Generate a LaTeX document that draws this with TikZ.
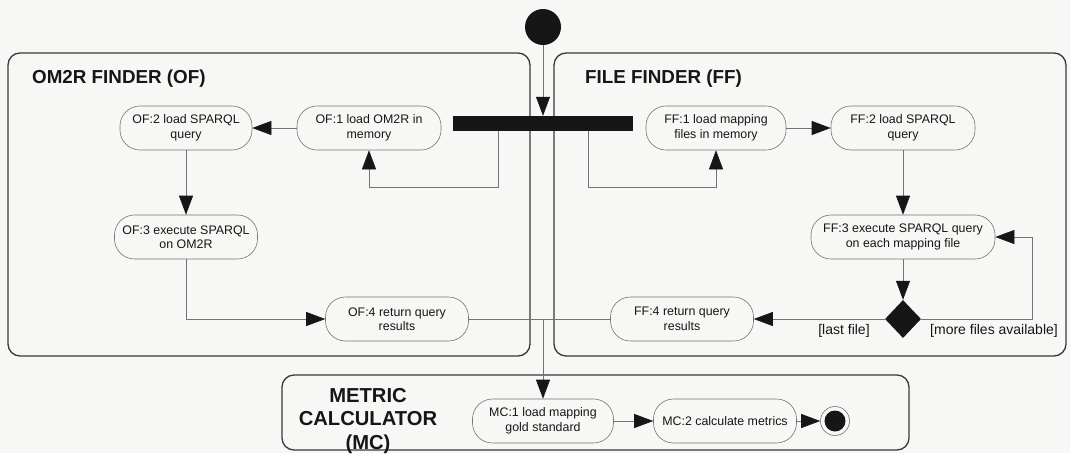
\documentclass[tikz,border=0pt]{standalone}
\usepackage{fontspec}
\setmainfont{Liberation Sans}
\usetikzlibrary{arrows.meta,shapes.geometric,calc}

\definecolor{paper}{RGB}{247,247,245}
\definecolor{ink}{RGB}{22,22,22}
\definecolor{wire}{RGB}{115,115,115}

\begin{document}
\begin{tikzpicture}[x=1pt,y=-1pt,
  lane/.style={draw=ink!85, line width=1.3pt, rounded corners=12pt},
  act/.style={draw=wire, line width=0.6pt, rounded corners=20pt,
    minimum height=44pt, align=center, inner sep=2pt, text=ink,
    font=\fontsize{12.4}{14.5}\selectfont},
  title/.style={font=\bfseries\fontsize{18.8}{23.5}\selectfont, text=ink, inner sep=0pt},
  bigtitle/.style={font=\bfseries\fontsize{20.2}{23.8}\selectfont, text=ink, inner sep=0pt},
  guard/.style={font=\fontsize{14}{16}\selectfont, text=ink, inner sep=0pt},
  flow/.style={draw=wire, line width=0.6pt,
    -{Triangle[length=19pt,width=14pt,color=ink]}},
  wirepath/.style={draw=wire, line width=0.6pt},
  startnode/.style={circle, fill=ink, minimum size=36pt, inner sep=0pt},
  forkbar/.style={fill=ink, minimum width=180pt, minimum height=15pt, inner sep=0pt},
  choice/.style={diamond, fill=ink, minimum width=36pt, minimum height=38pt, inner sep=0pt},
  endnode/.style={circle, draw=wire, line width=0.6pt, minimum size=29pt, inner sep=0pt,
    path picture={\fill[ink] (path picture bounding box.center) circle (10.5pt);}}
]
% page
\fill[paper] (0,0) rectangle (1070,453);
\useasboundingbox (0,0) rectangle (1070,453);

% swimlane frames
\draw[lane] (8,53) rectangle (530,356);
\draw[lane] (554,53) rectangle (1066,356);
\draw[lane] (282,375) rectangle (909,450);

% lane titles
\node[title, anchor=west] (oftitle) at (32,79) {OM2R FINDER (OF)};
\node[title, anchor=west] (fftitle) at (585,79) {FILE FINDER (FF)};
\node[bigtitle, align=center] (mctitle) at (368,421) {METRIC\\CALCULATOR\\(MC)};

% initial node and fork
\node[startnode] (start) at (543,27) {};
\node[forkbar] (fork) at (543,123.5) {};

% OM2R finder activities
\node[act, minimum width=132pt] (of2) at (186,128) {OF:2 load SPARQL\\query};
\node[act, minimum width=144pt] (of1) at (369,128) {OF:1 load OM2R in\\memory};
\node[act, minimum width=143pt] (of3) at (186,237) {OF:3 execute SPARQL\\on OM2R};
\node[act, minimum width=143pt] (of4) at (397,319) {OF:4 return query\\results};

% file finder activities
\node[act, minimum width=140pt] (ff1) at (716,128) {FF:1 load mapping\\files in memory};
\node[act, minimum width=144pt] (ff2) at (903,128) {FF:2 load SPARQL\\query};
\node[act, minimum width=184pt] (ff3) at (903,237) {FF:3 execute SPARQL query\\on each mapping file};
\node[act, minimum width=143pt] (ff4) at (682,319) {FF:4 return query\\results};
\node[choice] (dec) at (903,319) {};

% metric calculator activities
\node[act, minimum width=141pt] (mc1) at (543,421) {MC:1 load mapping\\gold standard};
\node[act, minimum width=143pt] (mc2) at (725,421) {MC:2 calculate metrics};
\node[endnode] (stop) at (835,421) {};

% guards
\node[guard] (lastg) at (844,331) {[last file]};
\node[guard] (moreg) at (994,331) {[more files available]};

% control flow
\draw[flow] (start) -- (fork);
\draw[flow] ([xshift=-45pt]fork.south) -- ++(0,56) -| (of1.south);
\draw[flow] ([xshift=45pt]fork.south) -- ++(0,56) -| (ff1.south);
\draw[flow] (of1) -- (of2);
\draw[flow] (ff1) -- (ff2);
\draw[flow] (of2) -- (of3);
\draw[flow] (ff2) -- (ff3);
\draw[flow] (of3.south) |- (of4.west);
\draw[flow] (ff3) -- (dec);
\draw[flow] (dec.west) -- (ff4.east);
\draw[flow] (dec.east) -- ++(111,0) |- (ff3.east);

% join of both finders into the metric calculator
\coordinate (merge) at (543,319);
\draw[wirepath] (of4.east) -- (merge);
\draw[wirepath] (ff4.west) -- (merge);
\draw[flow] (merge) -- (mc1.north);
\draw[flow] (mc1) -- (mc2);
\draw[flow] (mc2) -- (stop);
\end{tikzpicture}
\end{document}
